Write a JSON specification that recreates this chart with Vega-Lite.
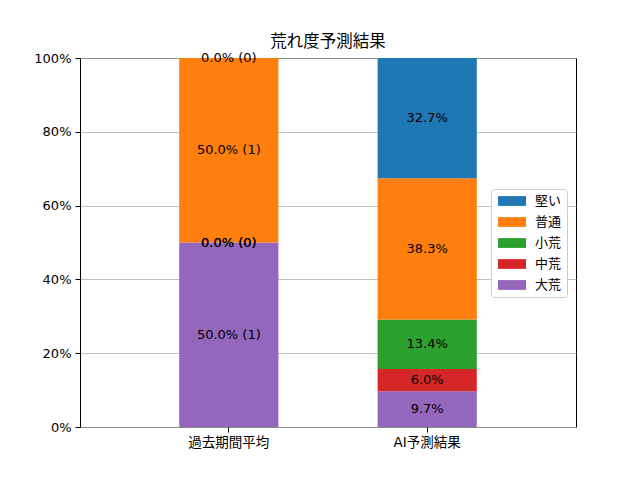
{
  "$schema": "https://vega.github.io/schema/vega-lite/v6.json",
  "width": 496,
  "height": 369,
  "autosize": {"type": "none"},
  "padding": {"left": 80, "top": 58, "right": 64, "bottom": 53},
  "background": "white",
  "title": {
    "text": "荒れ度予測結果",
    "fontSize": 16.5,
    "fontWeight": "normal",
    "font": "DejaVu Sans, Noto Sans CJK JP",
    "color": "black",
    "offset": 2
  },
  "config": {
    "view": {"stroke": "black", "strokeWidth": 1},
    "axis": {
      "domain": false,
      "labelFont": "DejaVu Sans, Noto Sans CJK JP",
      "labelFontSize": 13,
      "labelColor": "black",
      "tickColor": "black",
      "tickSize": 5,
      "tickWidth": 1,
      "labelPadding": 3
    },
    "legend": {
      "labelFont": "DejaVu Sans, Noto Sans CJK JP",
      "labelFontSize": 13,
      "labelColor": "black"
    }
  },
  "data": {
    "values": [
      {"period": "過去期間平均", "class": "大荒", "level": 1, "share": 0.5, "label": "50.0% (1)"},
      {"period": "過去期間平均", "class": "中荒", "level": 2, "share": 0, "label": "0.0% (0)"},
      {"period": "過去期間平均", "class": "小荒", "level": 3, "share": 0, "label": "0.0% (0)"},
      {"period": "過去期間平均", "class": "普通", "level": 4, "share": 0.5, "label": "50.0% (1)"},
      {"period": "過去期間平均", "class": "堅い", "level": 5, "share": 0, "label": "0.0% (0)"},
      {"period": "AI予測結果", "class": "大荒", "level": 1, "share": 0.097, "label": "9.7%"},
      {"period": "AI予測結果", "class": "中荒", "level": 2, "share": 0.06, "label": "6.0%"},
      {"period": "AI予測結果", "class": "小荒", "level": 3, "share": 0.134, "label": "13.4%"},
      {"period": "AI予測結果", "class": "普通", "level": 4, "share": 0.383, "label": "38.3%"},
      {"period": "AI予測結果", "class": "堅い", "level": 5, "share": 0.327, "label": "32.7%"}
    ]
  },
  "encoding": {
    "x": {
      "field": "period",
      "type": "nominal",
      "sort": ["過去期間平均", "AI予測結果"],
      "scale": {"paddingInner": 0.5, "paddingOuter": 0.5},
      "axis": {"title": null, "labelAngle": 0, "labelFontSize": 13.5}
    },
    "order": {"field": "level", "type": "quantitative"}
  },
  "layer": [
    {
      "mark": {"type": "bar", "clip": true},
      "encoding": {
        "y": {
          "field": "share",
          "type": "quantitative",
          "stack": "zero",
          "scale": {"domain": [0, 1], "nice": false},
          "axis": {
            "title": null,
            "format": ".0%",
            "values": [0, 0.2, 0.4, 0.6, 0.8, 1],
            "grid": true,
            "gridColor": "#b0b0b0",
            "gridWidth": 0.8,
            "labelPadding": 4
          }
        },
        "color": {
          "field": "class",
          "type": "nominal",
          "scale": {
            "domain": ["堅い", "普通", "小荒", "中荒", "大荒"],
            "range": ["#1f77b4", "#ff7f0e", "#2ca02c", "#d62728", "#9467bd"]
          },
          "legend": {
            "title": null,
            "orient": "none",
            "legendX": 411,
            "legendY": 131,
            "fillColor": "white",
            "strokeColor": "#cccccc",
            "cornerRadius": 3,
            "padding": 5,
            "rowPadding": 7,
            "symbolType": "M-0.71,-0.7H3.29V0.7H-0.71Z",
            "symbolSize": 196,
            "symbolStrokeWidth": 0,
            "symbolOpacity": 1,
            "labelOffset": 25
          }
        }
      }
    },
    {
      "mark": {
        "type": "text",
        "fontSize": 13,
        "font": "DejaVu Sans, Noto Sans CJK JP",
        "color": "black",
        "baseline": "middle"
      },
      "encoding": {
        "y": {
          "field": "share",
          "type": "quantitative",
          "stack": "zero",
          "bandPosition": 0.5
        },
        "detail": {"field": "class"},
        "text": {"field": "label"}
      }
    }
  ]
}
